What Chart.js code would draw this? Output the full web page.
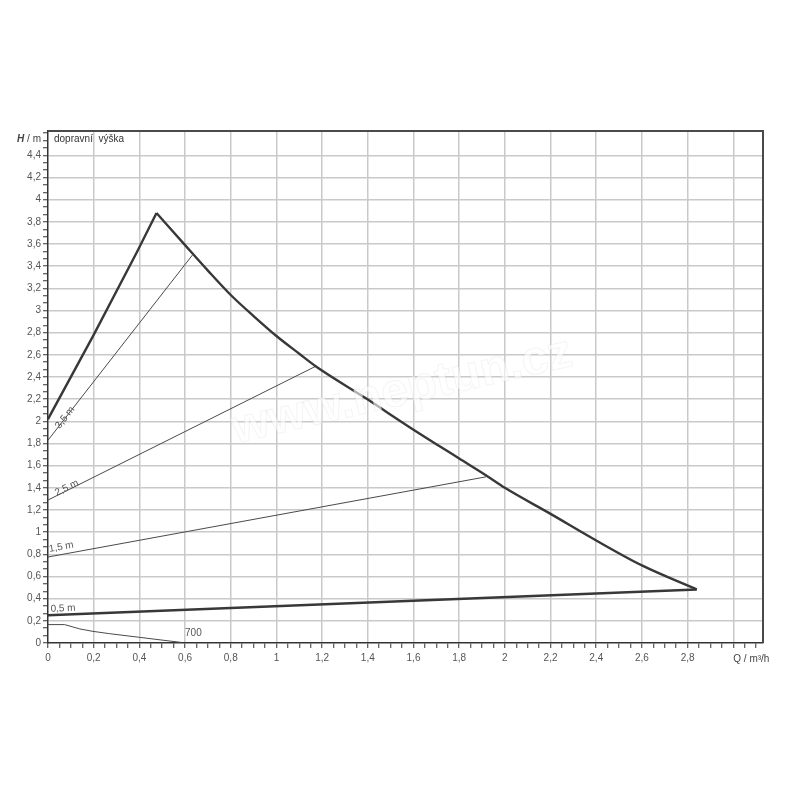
<!DOCTYPE html>
<html>
<head>
<meta charset="utf-8">
<script src="https://cdn.jsdelivr.net/npm/chart.js@4.4.1/dist/chart.umd.min.js"></script>
<style>
  html, body { margin: 0; padding: 0; background: #ffffff; }
  #wrap { width: 800px; height: 800px; position: relative; }
</style>
</head>
<body>
<div id="wrap"><canvas id="c"></canvas></div>
<script>
// ---- data (Q in m³/h, H in m) ----
const riseQ = [0, 0.2, 0.39, 0.475];
const riseH = [2.02, 2.78, 3.53, 3.88];
const fallQ = [0.475, 0.6, 0.7, 0.8, 0.9, 1.0, 1.1, 1.17, 1.39, 1.6, 1.8, 1.92, 2.0, 2.2, 2.4, 2.6, 2.84];
const fallH = [3.88, 3.59, 3.36, 3.14, 2.95, 2.77, 2.61, 2.50, 2.21, 1.925, 1.665, 1.51, 1.40, 1.165, 0.925, 0.70, 0.483];
const minQ = [0, 2.84];
const minH = [0.25, 0.483];
const line35Q = [0, 0.632];
const line35H = [1.83, 3.50];
const line25Q = [0, 1.172];
const line25H = [1.29, 2.497];
const line15Q = [0, 1.919];
const line15H = [0.776, 1.50];
const powerQ = [0, 0.073, 0.139, 0.197, 0.27, 0.401, 0.584];
const powerH = [0.166, 0.166, 0.127, 0.105, 0.084, 0.051, 0.005];
const curveLabels = ['3,5 m', '2,5 m', '1,5 m', '0,5 m', '700'];
const xTickStep = 0.05, xMajorEvery = 4, xMaxLabel = 2.8;
const yTickStep = 0.2 / 3, yMajorEvery = 3, yMaxLabel = 4.4;
const xAxisTitle = 'Q / m³/h';
const yAxisTitleH = 'H', yAxisTitleRest = ' / m';
const yQuantityName = 'dopravní  výška';
const watermark = 'www.neptun.cz';

// annotation anchors (data coordinates) for the curve labels
const labelAnchorQ = [0.075, 0.082, 0.058, 0.066, 0.6];
const labelAnchorH = [2.034, 1.399, 0.865, 0.311, 0.084];

function pts(q, h) { return q.map((v, i) => ({ x: v, y: h[i] })); }
function fmt(v) { return (Math.round(v * 10) / 10).toString().replace('.', ','); }

const FONT = "'Liberation Sans', Arial, sans-serif";

const datasets = [
  { data: pts(riseQ, riseH), borderColor: '#383838', borderWidth: 2.4 },
  { data: pts(fallQ, fallH), borderColor: '#383838', borderWidth: 2.4, cubicInterpolationMode: 'monotone' },
  { data: pts(minQ, minH), borderColor: '#383838', borderWidth: 2.4 },
  { data: pts(line35Q, line35H), borderColor: '#4a4a4a', borderWidth: 1 },
  { data: pts(line25Q, line25H), borderColor: '#4a4a4a', borderWidth: 1 },
  { data: pts(line15Q, line15H), borderColor: '#4a4a4a', borderWidth: 1 },
  { data: pts(powerQ, powerH), borderColor: '#4a4a4a', borderWidth: 1 }
].map(d => Object.assign({ pointRadius: 0, tension: 0, fill: false, borderJoinStyle: 'miter' }, d));

// which dataset each label follows (for its angle)
const labelLine = [3, 4, 5, 2, -1];

const decor = {
  id: 'decor',
  afterDraw(chart) {
    const ctx = chart.ctx, a = chart.chartArea;
    const xs = chart.scales.x, ys = chart.scales.y;
    ctx.save();
    // frame top/right
    ctx.strokeStyle = '#4a4a4a';
    ctx.lineWidth = 2;
    ctx.beginPath();
    ctx.moveTo(a.left, a.top);
    ctx.lineTo(a.right, a.top);
    ctx.lineTo(a.right, a.bottom);
    ctx.stroke();

    // curve labels
    ctx.fillStyle = '#555';
    ctx.font = '10px ' + FONT;
    ctx.textBaseline = 'middle';
    curveLabels.forEach((t, i) => {
      const px = xs.getPixelForValue(labelAnchorQ[i]);
      const py = ys.getPixelForValue(labelAnchorH[i]);
      let ang = 0;
      const li = labelLine[i];
      if (li >= 0) {
        const d = chart.data.datasets[li].data;
        const p0x = xs.getPixelForValue(d[0].x), p0y = ys.getPixelForValue(d[0].y);
        const p1x = xs.getPixelForValue(d[d.length - 1].x), p1y = ys.getPixelForValue(d[d.length - 1].y);
        ang = Math.atan2(p1y - p0y, p1x - p0x);
      }
      ctx.save();
      ctx.translate(px, py);
      ctx.rotate(ang);
      ctx.textAlign = li >= 0 ? 'center' : 'left';
      ctx.fillText(t, 0, 0);
      ctx.restore();
    });

    // axis titles
    const ty = ys.getPixelForValue(4.55);
    ctx.fillStyle = '#444';
    ctx.textBaseline = 'middle';
    ctx.font = '10px ' + FONT;
    const restW = ctx.measureText(yAxisTitleRest).width;
    ctx.textAlign = 'right';
    const rx = a.left - 7;
    ctx.fillText(yAxisTitleRest, rx, ty);
    ctx.font = 'italic bold 10px ' + FONT;
    ctx.fillText(yAxisTitleH, rx - restW, ty);
    ctx.font = '10px ' + FONT;
    ctx.textAlign = 'left';
    ctx.fillStyle = '#333';
    ctx.fillText(yQuantityName, a.left + 6, ty);
    ctx.fillStyle = '#444';
    ctx.fillText(xAxisTitle, xs.getPixelForValue(3.0), a.bottom + 16);

    // watermark
    ctx.translate(xs.getPixelForValue(1.55), ys.getPixelForValue(2.27));
    ctx.rotate(-13 * Math.PI / 180);
    ctx.font = 'bold 48px ' + FONT;
    ctx.textAlign = 'center';
    ctx.fillStyle = 'rgba(255,255,255,0.6)';
    ctx.fillText(watermark, 0, 0);
    ctx.strokeStyle = 'rgba(170,170,170,0.13)';
    ctx.lineWidth = 1;
    ctx.strokeText(watermark, 0, 0);
    ctx.restore();
  }
};

function stepTicks(step, max) {
  const out = [];
  for (let k = 0; k * step <= max + 1e-9; k++) out.push({ value: +(k * step).toFixed(6) });
  return out;
}

new Chart(document.getElementById('c'), {
  type: 'line',
  data: { datasets },
  options: {
    responsive: true,
    maintainAspectRatio: false,
    animation: false,
    events: [],
    layout: { padding: { left: 0, top: 131, right: 37, bottom: 0 } },
    plugins: { legend: { display: false }, tooltip: { enabled: false }, title: { display: false } },
    scales: {
      x: {
        type: 'linear',
        min: 0,
        max: 3.13,
        afterBuildTicks: s => { s.ticks = stepTicks(xTickStep, 3.1); },
        afterFit: s => { s.height = 157; },
        border: { display: true, color: '#333', width: 1.5 },
        grid: {
          color: c => (c.index % xMajorEvery === 0 && c.index > 0) ? '#c9c9c9' : 'rgba(0,0,0,0)',
          lineWidth: 1.5,
          tickColor: '#333',
          tickWidth: 1,
          tickLength: 5,
          drawOnChartArea: true
        },
        ticks: {
          autoSkip: false,
          maxRotation: 0,
          padding: 4,
          color: '#555',
          font: { family: FONT, size: 10 },
          callback: (v, i) => (i % xMajorEvery === 0 && v <= xMaxLabel + 1e-6) ? fmt(v) : ''
        }
      },
      y: {
        type: 'linear',
        min: 0,
        max: 4.62,
        afterBuildTicks: s => { s.ticks = stepTicks(yTickStep, 4.6); },
        afterFit: s => { s.width = 48; },
        border: { display: true, color: '#333', width: 1.5 },
        grid: {
          color: c => (c.index % yMajorEvery === 0 && c.index > 0 && c.tick && c.tick.value < 4.5) ? '#c9c9c9' : 'rgba(0,0,0,0)',
          lineWidth: 1.5,
          tickColor: '#333',
          tickWidth: 1,
          tickLength: 5,
          drawOnChartArea: true
        },
        ticks: {
          autoSkip: false,
          padding: 2,
          color: '#555',
          font: { family: FONT, size: 10 },
          callback: (v, i) => (i % yMajorEvery === 0 && v <= yMaxLabel + 1e-6) ? fmt(v) : ''
        }
      }
    }
  },
  plugins: [decor]
});
</script>
</body>
</html>
